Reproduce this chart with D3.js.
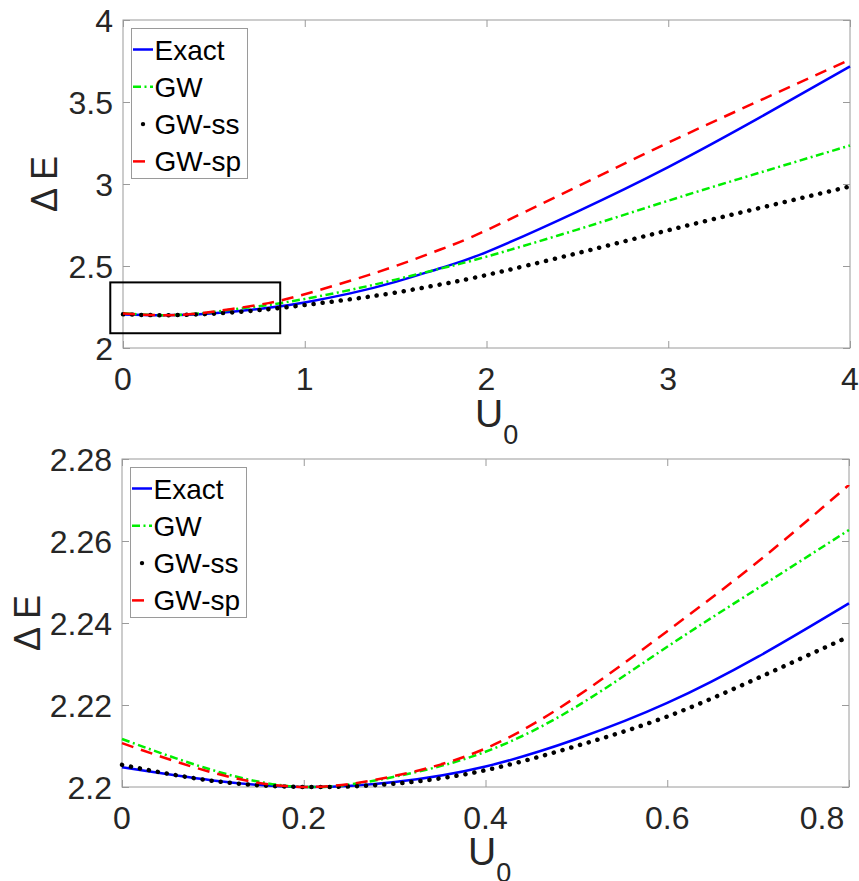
<!DOCTYPE html>
<html>
<head>
<meta charset="utf-8">
<script src="https://cdn.jsdelivr.net/npm/d3@7"></script>
<style>
  body { margin: 0; background: #fff; }
  text { font-family: "Liberation Sans", Arial, Helvetica, sans-serif; }
</style>
</head>
<body>
<svg id="chart" width="859" height="881"></svg>
<script>
const seriesNames = ['Exact', 'GW', 'GW-ss', 'GW-sp']

// upper panel: U0 from 0 to 4
const uWide = [0, 0.2, 0.4, 0.6, 0.8, 1, 1.25, 1.5, 1.75, 2, 2.5, 3, 3.5, 4]
const exactWide = [2.205, 2.200, 2.205, 2.2205, 2.2448, 2.278, 2.333, 2.403, 2.488, 2.585, 2.832, 3.103, 3.403, 3.717]
const gwWide = [2.2117, 2.200, 2.2086, 2.2342, 2.2627, 2.299, 2.354, 2.417, 2.485, 2.557, 2.722, 2.898, 3.068, 3.235]
const gwssWide = [2.2054, 2.200, 2.2041, 2.2168, 2.2367, 2.262, 2.297, 2.338, 2.388, 2.445, 2.578, 2.718, 2.853, 2.985]
const gwspWide = [2.2107, 2.200, 2.2094, 2.2383, 2.2737, 2.328, 2.41, 2.50, 2.602, 2.718, 2.985, 3.252, 3.507, 3.758]
const wideXTicks = [0, 1, 2, 3, 4]
const wideYTicks = [2, 2.5, 3, 3.5, 4]
// the box marking the zoomed region
const zoomBoxX = [-0.07, 0.865]
const zoomBoxY = [2.09, 2.40]

// lower panel: zoom on small U0
const uZoom = [0, 0.1, 0.2, 0.3, 0.4, 0.5, 0.6, 0.7, 0.8]
const exactZoom = [2.2048, 2.2016, 2.2000, 2.2012, 2.2050, 2.2117, 2.2205, 2.2318, 2.2448]
const gwZoom = [2.2117, 2.2041, 2.2000, 2.2025, 2.2086, 2.2196, 2.2342, 2.2485, 2.2627]
const gwssZoom = [2.2054, 2.2015, 2.2000, 2.2008, 2.2041, 2.2100, 2.2172, 2.2266, 2.2367]
const gwspZoom = [2.2107, 2.2035, 2.2000, 2.2027, 2.2094, 2.2220, 2.2380, 2.2550, 2.2737]
const zoomXTicks = [0, 0.2, 0.4, 0.6, 0.8]
const zoomYTicks = [2.2, 2.22, 2.24, 2.26, 2.28]

const styles = [
  {color: '#0000ff', width: 2.5, dash: null, cap: 'butt'},
  {color: '#00ee00', width: 2.5, dash: '8 3.5 2 3.5', cap: 'butt'},
  {color: '#000000', width: 4.5, dash: '0.1 9', cap: 'round'},
  {color: '#ff0000', width: 2.5, dash: '12 8', cap: 'butt'}
]

const svg = d3.select('#chart')
const axisColor = '#9a9a9a'
const tickColor = '#262626'

function drawPanel(p) {
  const g = svg.append('g')
  const x = d3.scaleLinear().domain(p.xDomain).range([p.left, p.right])
  const y = d3.scaleLinear().domain(p.yDomain).range([p.bottom, p.top])

  // inward ticks on all four sides
  const tl = 7
  g.append('g').attr('transform', `translate(0,${p.bottom})`)
    .call(d3.axisBottom(x).tickValues(p.xTicks).tickSizeInner(-tl).tickSizeOuter(0).tickFormat(''))
  g.append('g').attr('transform', `translate(0,${p.top})`)
    .call(d3.axisTop(x).tickValues(p.xTicks).tickSizeInner(-tl).tickSizeOuter(0).tickFormat(''))
  g.append('g').attr('transform', `translate(${p.left},0)`)
    .call(d3.axisLeft(y).tickValues(p.yTicks).tickSizeInner(-tl).tickSizeOuter(0).tickFormat(''))
  g.append('g').attr('transform', `translate(${p.right},0)`)
    .call(d3.axisRight(y).tickValues(p.yTicks).tickSizeInner(-tl).tickSizeOuter(0).tickFormat(''))
  g.selectAll('.domain').remove()
  g.selectAll('.tick line').attr('stroke', axisColor).attr('stroke-width', 1)

  g.append('rect')
    .attr('x', p.left).attr('y', p.top)
    .attr('width', p.right - p.left).attr('height', p.bottom - p.top)
    .attr('fill', 'none').attr('stroke', axisColor).attr('stroke-width', 1)

  // tick labels
  g.selectAll('.xlab')
    .data(p.xTicks)
    .join('text')
    .attr('x', (d, i) => i == p.xTicks.length - 1 && p.lastXShift ? x(d) + p.lastXShift : x(d))
    .attr('y', p.bottom + 42)
    .attr('text-anchor', 'middle')
    .attr('font-size', 32)
    .attr('fill', tickColor)
    .text(d => String(d))
  g.selectAll('.ylab')
    .data(p.yTicks)
    .join('text')
    .attr('x', p.left - 10)
    .attr('y', d => y(d) + 12)
    .attr('text-anchor', 'end')
    .attr('font-size', 32)
    .attr('fill', tickColor)
    .text(d => String(d))

  // axis titles
  const xt = g.append('text')
    .attr('x', p.xTitleX)
    .attr('y', p.xTitleY)
    .attr('font-size', 39)
    .attr('fill', tickColor)
  xt.append('tspan').text('U')
  xt.append('tspan').attr('font-size', 27).attr('dy', 17).text('0')

  g.append('text')
    .attr('transform', `translate(${p.yTitleX},${p.yTitleY}) rotate(-90)`)
    .attr('text-anchor', 'middle')
    .attr('font-size', 36)
    .attr('fill', tickColor)
    .text('Δ E')

  // curves
  const line = d3.line()
    .x(d => x(d[0]))
    .y(d => y(d[1]))
    .curve(d3.curveNatural)
  p.series.forEach((vals, i) => {
    const s = styles[i]
    g.append('path')
      .datum(p.u.map((u, j) => [u, vals[j]]))
      .attr('d', line)
      .attr('fill', 'none')
      .attr('stroke', s.color)
      .attr('stroke-width', s.width)
      .attr('stroke-dasharray', s.dash)
      .attr('stroke-linecap', s.cap)
  })

  if (p.box) {
    g.append('rect')
      .attr('x', x(p.box[0][0]))
      .attr('y', y(p.box[1][1]))
      .attr('width', x(p.box[0][1]) - x(p.box[0][0]))
      .attr('height', y(p.box[1][0]) - y(p.box[1][1]))
      .attr('fill', 'none')
      .attr('stroke', '#000')
      .attr('stroke-width', 2)
  }

  // legend
  const lg = g.append('g')
  lg.append('rect')
    .attr('x', p.legend.x).attr('y', p.legend.y)
    .attr('width', 116).attr('height', 150)
    .attr('fill', '#fff').attr('stroke', axisColor).attr('stroke-width', 1)
  seriesNames.forEach((name, i) => {
    const s = styles[i]
    const cy = p.legend.y + 21 + i * 37.3
    const x0 = p.legend.x + 1.5
    if (s.cap == 'round') {
      lg.append('circle').attr('cx', x0 + 10).attr('cy', cy).attr('r', 2.2).attr('fill', s.color)
    } else {
      lg.append('line')
        .attr('x1', x0).attr('x2', x0 + 20)
        .attr('y1', cy).attr('y2', cy)
        .attr('stroke', s.color)
        .attr('stroke-width', s.width)
        .attr('stroke-dasharray', s.dash)
    }
    lg.append('text')
      .attr('x', p.legend.x + 23)
      .attr('y', cy + 10)
      .attr('font-size', 28)
      .attr('fill', '#000')
      .text(name)
  })
}

drawPanel({
  left: 123, right: 850, top: 20, bottom: 348,
  xDomain: [0, 4], yDomain: [2, 4],
  xTicks: wideXTicks, yTicks: wideYTicks,
  u: uWide, series: [exactWide, gwWide, gwssWide, gwspWide],
  box: [zoomBoxX, zoomBoxY],
  legend: {x: 131.5, y: 28.5},
  xTitleX: 475, xTitleY: 427,
  yTitleX: 57, yTitleY: 184
})

drawPanel({
  left: 122, right: 849, top: 459, bottom: 787,
  xDomain: [0, 0.8], yDomain: [2.2, 2.28],
  xTicks: zoomXTicks, yTicks: zoomYTicks,
  u: uZoom, series: [exactZoom, gwZoom, gwssZoom, gwspZoom],
  lastXShift: -27,
  legend: {x: 130.5, y: 467.5},
  xTitleX: 468, xTitleY: 865,
  yTitleX: 40, yTitleY: 623
})
</script>
</body>
</html>
